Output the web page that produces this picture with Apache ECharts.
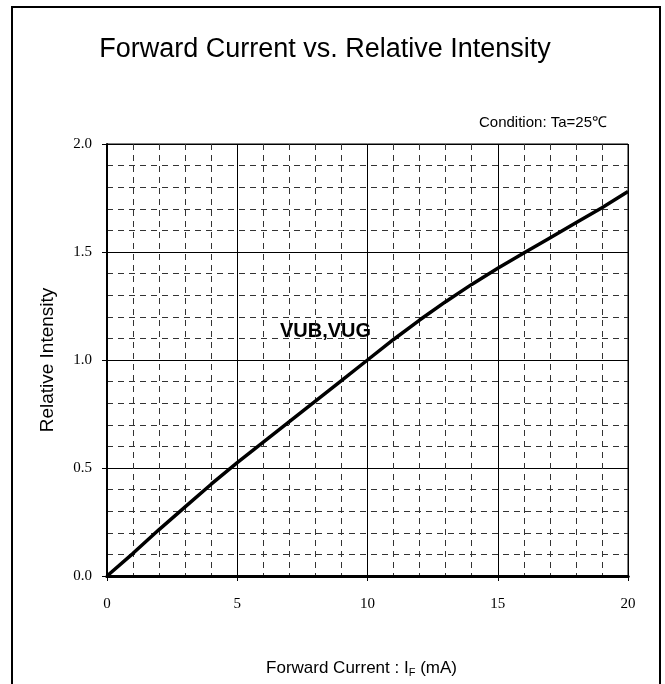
<!DOCTYPE html>
<html>
<head>
<meta charset="utf-8">
<script src="https://cdn.jsdelivr.net/npm/echarts@6/dist/echarts.min.js"></script>
<style>
  html, body { margin: 0; padding: 0; background: #fff; }
  #chart { width: 665px; height: 684px; }
</style>
</head>
<body>
<div id="chart"></div>
<script>
  // forward current (mA) and relative intensity
  var currents = [0, 1, 2, 3, 4, 5, 6, 7, 8, 9, 10, 11, 12, 13, 14, 15, 16, 17, 18, 19, 20];
  var intensity = [0, 0.105, 0.215, 0.32, 0.425, 0.525, 0.62, 0.715, 0.81, 0.905, 1.00,
                   1.095, 1.185, 1.27, 1.35, 1.425, 1.495, 1.565, 1.635, 1.705, 1.78];
  var seriesLabel = 'VUB,VUG';

  var points = currents.map(function (c, i) { return [c, intensity[i]]; });

  var myChart = echarts.init(document.getElementById('chart'));
  myChart.setOption({
    animation: false,
    title: {
      text: 'Forward Current vs. Relative Intensity',
      left: 320,
      top: 31,
      textAlign: 'center',
      textStyle: { fontFamily: 'Liberation Sans', fontSize: 27, fontWeight: 'normal', color: '#000' }
    },
    grid: {
      left: 107, right: 37, top: 144, bottom: 108,
      show: true, borderColor: '#000', borderWidth: 1
    },
    graphic: [
      {
        type: 'rect',
        shape: { x: 12, y: 7, width: 648, height: 700 },
        style: { fill: 'none', stroke: '#000', lineWidth: 2 },
        silent: true
      },
      {
        type: 'text',
        right: 58, top: 115,
        style: { text: 'Condition: Ta=25℃', fontFamily: 'Liberation Sans', fontSize: 15, fill: '#000' }
      },
      {
        type: 'text',
        left: 280, top: 321,
        style: { text: seriesLabel, fontFamily: 'Liberation Sans', fontSize: 20, fontWeight: 'bold', fill: '#000' }
      }
    ],
    xAxis: [{
      type: 'value',
      min: 0, max: 20, interval: 5,
      name: 'Forward Current : I{sub|F} (mA)',
      nameLocation: 'middle',
      nameGap: 82,
      nameTextStyle: {
        fontFamily: 'Liberation Sans', fontSize: 17, color: '#000',
        padding: [0, 12, 0, 0],
        rich: { sub: { fontFamily: 'Liberation Sans', fontSize: 11, verticalAlign: 'bottom', padding: [9, 0, 0, 0] } }
      },
      axisLine: { show: true, onZero: false, lineStyle: { color: '#000', width: 3 } },
      axisTick: { show: true, length: 5, lineStyle: { color: '#000' } },
      axisLabel: { margin: 21, fontFamily: 'Liberation Serif', fontSize: 15, color: '#000' },
      splitLine: { show: true, lineStyle: { color: '#000', width: 1 } },
      minorTick: { show: false, splitNumber: 5 },
      minorSplitLine: { show: true, lineStyle: { color: '#333', width: 1, type: [6, 5] } }
    }, {
      type: 'value',
      position: 'top',
      min: 0, max: 20,
      axisLine: { show: true, lineStyle: { color: '#000', width: 3 } },
      axisTick: { show: false },
      axisLabel: { show: false },
      splitLine: { show: false }
    }],
    yAxis: {
      type: 'value',
      min: 0, max: 2, interval: 0.5,
      name: 'Relative Intensity',
      nameLocation: 'middle',
      nameGap: 50,
      nameTextStyle: { fontFamily: 'Liberation Sans', fontSize: 19, color: '#000' },
      axisLine: { show: true, onZero: false, lineStyle: { color: '#000', width: 2 } },
      axisTick: { show: true, length: 5, lineStyle: { color: '#000' } },
      axisLabel: {
        margin: 15, fontFamily: 'Liberation Serif', fontSize: 15, color: '#000',
        formatter: function (v) { return v.toFixed(1); }
      },
      splitLine: { show: true, lineStyle: { color: '#000', width: 1 } },
      minorTick: { show: false, splitNumber: 5 },
      minorSplitLine: { show: true, lineStyle: { color: '#333', width: 1, type: [6, 5] } }
    },
    series: [{
      name: seriesLabel,
      type: 'line',
      data: points,
      showSymbol: false,
      lineStyle: { color: '#000', width: 3.5, join: 'round' }
    }]
  });
</script>
</body>
</html>
